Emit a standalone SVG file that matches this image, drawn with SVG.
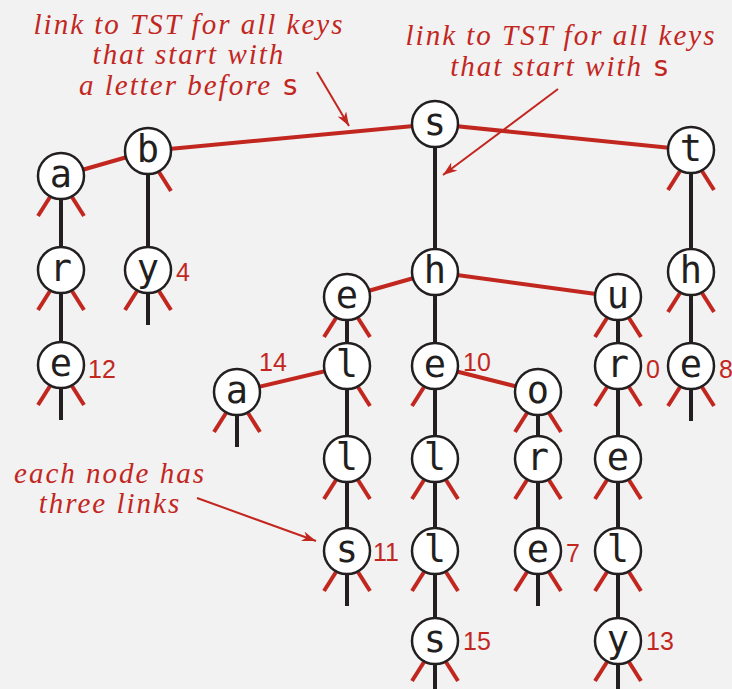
<svg xmlns="http://www.w3.org/2000/svg" width="732" height="689" viewBox="0 0 732 689">
<defs>
<style>
.bg{fill:#f2f2f2}
.blk{stroke:#231f20;stroke-width:4;fill:none}
.red{stroke:#c2271f;stroke-width:4;fill:none}
.stub{stroke:#c2271f;stroke-width:4;fill:none}
.arr{stroke:#c2271f;stroke-width:2;fill:none}
.nd{fill:#fff;stroke:#231f20;stroke-width:2.5}
.lt{font-family:"DejaVu Sans Mono",monospace;font-size:37px;fill:#231f20;text-anchor:middle}
.val{font-family:"Liberation Sans",Arial,sans-serif;font-size:25px;fill:#c2271f}
.note{font-family:"Liberation Serif","Times New Roman",serif;font-style:italic;font-size:29px;fill:#c2271f;text-anchor:middle;letter-spacing:2px}
.mono{font-family:"DejaVu Sans Mono",monospace;font-style:normal;letter-spacing:0}
</style>
<marker id="ah" markerUnits="userSpaceOnUse" markerWidth="16" markerHeight="12" refX="14" refY="5" orient="auto">
<path d="M0,0 L14,5 L0,10 L4,5 Z" fill="#c2271f"/>
</marker>
<g id="stubL"><line x1="-11" y1="21" x2="-23" y2="40" class="stub"/></g>
<g id="stubR"><line x1="11" y1="21" x2="23" y2="40" class="stub"/></g>
<g id="stubM"><line x1="0" y1="20" x2="0" y2="55" class="blk"/></g>
</defs>
<rect class="bg" x="0" y="0" width="732" height="689"/>

<g id="connectors">
<line class="blk" x1="435" y1="124" x2="435" y2="272"/>
<line class="blk" x1="148" y1="151" x2="148" y2="270"/>
<line class="blk" x1="61" y1="176" x2="61" y2="365"/>
<line class="blk" x1="691" y1="150" x2="691" y2="366"/>
<line class="blk" x1="435" y1="272" x2="435" y2="641"/>
<line class="blk" x1="347" y1="297" x2="347" y2="551"/>
<line class="blk" x1="538" y1="392" x2="538" y2="551"/>
<line class="blk" x1="618" y1="297" x2="618" y2="641"/>
<line class="red" x1="435" y1="124" x2="148" y2="151"/>
<line class="red" x1="435" y1="124" x2="691" y2="150"/>
<line class="red" x1="148" y1="151" x2="61" y2="176"/>
<line class="red" x1="435" y1="272" x2="347" y2="297"/>
<line class="red" x1="435" y1="272" x2="618" y2="297"/>
<line class="red" x1="347" y1="366" x2="237" y2="392"/>
<line class="red" x1="435" y1="366" x2="538" y2="392"/>
<use href="#stubR" x="148" y="151"/>
<use href="#stubL" x="61" y="176"/><use href="#stubR" x="61" y="176"/>
<use href="#stubL" x="61" y="270"/><use href="#stubR" x="61" y="270"/>
<use href="#stubL" x="61" y="365"/><use href="#stubR" x="61" y="365"/><use href="#stubM" x="61" y="365"/>
<use href="#stubL" x="148" y="270"/><use href="#stubR" x="148" y="270"/><use href="#stubM" x="148" y="270"/>
<use href="#stubL" x="691" y="150"/><use href="#stubR" x="691" y="150"/>
<use href="#stubL" x="691" y="272"/><use href="#stubR" x="691" y="272"/>
<use href="#stubL" x="691" y="366"/><use href="#stubR" x="691" y="366"/><use href="#stubM" x="691" y="366"/>
<use href="#stubL" x="347" y="297"/><use href="#stubR" x="347" y="297"/>
<use href="#stubR" x="347" y="366"/>
<use href="#stubL" x="237" y="392"/><use href="#stubR" x="237" y="392"/><use href="#stubM" x="237" y="392"/>
<use href="#stubL" x="347" y="459"/><use href="#stubR" x="347" y="459"/>
<use href="#stubL" x="347" y="551"/><use href="#stubR" x="347" y="551"/><use href="#stubM" x="347" y="551"/>
<use href="#stubL" x="435" y="366"/>
<use href="#stubL" x="435" y="459"/><use href="#stubR" x="435" y="459"/>
<use href="#stubL" x="435" y="551"/><use href="#stubR" x="435" y="551"/>
<use href="#stubL" x="435" y="641"/><use href="#stubR" x="435" y="641"/><use href="#stubM" x="435" y="641"/>
<use href="#stubL" x="538" y="392"/><use href="#stubR" x="538" y="392"/>
<use href="#stubL" x="538" y="459"/><use href="#stubR" x="538" y="459"/>
<use href="#stubL" x="538" y="551"/><use href="#stubR" x="538" y="551"/><use href="#stubM" x="538" y="551"/>
<use href="#stubL" x="618" y="297"/><use href="#stubR" x="618" y="297"/>
<use href="#stubL" x="618" y="366"/><use href="#stubR" x="618" y="366"/>
<use href="#stubL" x="618" y="459"/><use href="#stubR" x="618" y="459"/>
<use href="#stubL" x="618" y="551"/><use href="#stubR" x="618" y="551"/>
<use href="#stubL" x="618" y="641"/><use href="#stubR" x="618" y="641"/><use href="#stubM" x="618" y="641"/>
</g>

<g id="n-s"><circle class="nd" cx="435" cy="124" r="23"/><text class="lt" x="435" y="135">s</text></g>
<g id="n-b"><circle class="nd" cx="148" cy="151" r="23"/><text class="lt" x="148" y="162">b</text></g>
<g id="n-a"><circle class="nd" cx="61" cy="176" r="23"/><text class="lt" x="61" y="187">a</text></g>
<g id="n-ar"><circle class="nd" cx="61" cy="270" r="23"/><text class="lt" x="61" y="281">r</text></g>
<g id="n-are"><circle class="nd" cx="61" cy="365" r="23"/><text class="lt" x="61" y="376">e</text><text class="val" x="88" y="378">12</text></g>
<g id="n-by"><circle class="nd" cx="148" cy="270" r="23"/><text class="lt" x="148" y="281">y</text><text class="val" x="176" y="281">4</text></g>
<g id="n-t"><circle class="nd" cx="691" cy="150" r="23"/><text class="lt" x="691" y="161">t</text></g>
<g id="n-th"><circle class="nd" cx="691" cy="272" r="23"/><text class="lt" x="691" y="283">h</text></g>
<g id="n-the"><circle class="nd" cx="691" cy="366" r="23"/><text class="lt" x="691" y="377">e</text><text class="val" x="719" y="378">8</text></g>
<g id="n-sh"><circle class="nd" cx="435" cy="272" r="23"/><text class="lt" x="435" y="283">h</text></g>
<g id="n-se"><circle class="nd" cx="347" cy="297" r="23"/><text class="lt" x="347" y="308">e</text></g>
<g id="n-sel"><circle class="nd" cx="347" cy="366" r="23"/><text class="lt" x="347" y="377">l</text></g>
<g id="n-sea"><circle class="nd" cx="237" cy="392" r="23"/><text class="lt" x="237" y="403">a</text><text class="val" x="259" y="371">14</text></g>
<g id="n-sell"><circle class="nd" cx="347" cy="459" r="23"/><text class="lt" x="347" y="470">l</text></g>
<g id="n-sells"><circle class="nd" cx="347" cy="551" r="23"/><text class="lt" x="347" y="562">s</text><text class="val" x="373" y="561">11</text></g>
<g id="n-she"><circle class="nd" cx="435" cy="366" r="23"/><text class="lt" x="435" y="377">e</text><text class="val" x="463" y="371">10</text></g>
<g id="n-shel"><circle class="nd" cx="435" cy="459" r="23"/><text class="lt" x="435" y="470">l</text></g>
<g id="n-shell"><circle class="nd" cx="435" cy="551" r="23"/><text class="lt" x="435" y="562">l</text></g>
<g id="n-shells"><circle class="nd" cx="435" cy="641" r="23"/><text class="lt" x="435" y="652">s</text><text class="val" x="463" y="650">15</text></g>
<g id="n-sho"><circle class="nd" cx="538" cy="392" r="23"/><text class="lt" x="538" y="403">o</text></g>
<g id="n-shor"><circle class="nd" cx="538" cy="459" r="23"/><text class="lt" x="538" y="470">r</text></g>
<g id="n-shore"><circle class="nd" cx="538" cy="551" r="23"/><text class="lt" x="538" y="562">e</text><text class="val" x="566" y="562">7</text></g>
<g id="n-su"><circle class="nd" cx="618" cy="297" r="23"/><text class="lt" x="618" y="308">u</text></g>
<g id="n-sur"><circle class="nd" cx="618" cy="366" r="23"/><text class="lt" x="618" y="377">r</text><text class="val" x="646" y="378">0</text></g>
<g id="n-sure"><circle class="nd" cx="618" cy="459" r="23"/><text class="lt" x="618" y="470">e</text></g>
<g id="n-surel"><circle class="nd" cx="618" cy="551" r="23"/><text class="lt" x="618" y="562">l</text></g>
<g id="n-surely"><circle class="nd" cx="618" cy="641" r="23"/><text class="lt" x="618" y="652">y</text><text class="val" x="646" y="650">13</text></g>

<g id="annotations">
<text class="note" x="189" y="34">link to TST for all keys</text>
<text class="note" x="189" y="64">that start with</text>
<text class="note" x="189" y="95">a letter before <tspan class="mono">s</tspan></text>
<line class="arr" x1="317" y1="72" x2="349" y2="126" marker-end="url(#ah)"/>
<text class="note" x="561" y="45">link to TST for all keys</text>
<text class="note" x="560" y="76">that start with <tspan class="mono">s</tspan></text>
<line class="arr" x1="558" y1="89" x2="443" y2="175" marker-end="url(#ah)"/>
<text class="note" x="110" y="483">each node has</text>
<text class="note" x="110" y="513">three links</text>
<line class="arr" x1="197" y1="498" x2="316" y2="541" marker-end="url(#ah)"/>
</g>
</svg>
